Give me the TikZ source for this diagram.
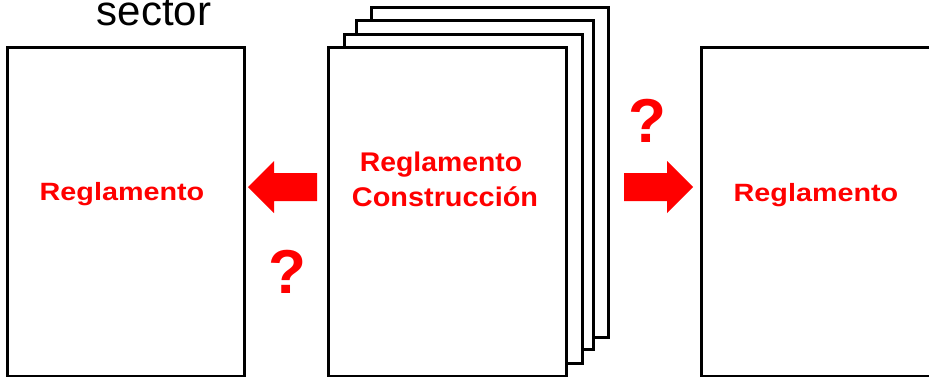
\documentclass[tikz,border=0pt]{standalone}
\usepackage{fontspec}
\setmainfont{Liberation Sans}
\begin{document}
\begin{tikzpicture}[x=1pt,y=-1pt,
  page/.style={draw=black,line width=3pt,fill=white},
  redtext/.style={text=red,font=\bfseries\fontsize{25}{30}\selectfont,inner sep=0pt,anchor=base},
  qmark/.style={text=red,font=\bfseries\fontsize{62}{70}\selectfont,inner sep=0pt},
  bigarrow/.style={fill=red,draw=none}]
\useasboundingbox (0,0) rectangle (929,376);
\clip (0,0) rectangle (929,376);
\fill[white] (0,0) rectangle (929,376);
% title fragment
\node[font=\fontsize{42}{48}\selectfont,inner sep=0pt,anchor=base] (title) at (154,25) {sector};
% left document
\draw[page] (7,47) rectangle (244,376);
% stacked documents
\draw[page] (371,7) rectangle (608,337);
\draw[page] (356,20) rectangle (593,349);
\draw[page] (344,34) rectangle (582,363);
\draw[page] (328,47) rectangle (566,376);
% right document
\draw[page] (701,47) rectangle (945,376);
% texts
\node[redtext,xscale=1.15] (lefttext) at (122,200.5) {Reglamento};
\node[redtext,font=\bfseries\fontsize{27}{32}\selectfont,xscale=1.05] (ctext1) at (441,171.7) {Reglamento};
\node[redtext,font=\bfseries\fontsize{27}{32}\selectfont,xscale=1.07] (ctext2) at (445,206.7) {Construcción};
\node[redtext,xscale=1.15] (righttext) at (816,201.5) {Reglamento};
% arrows
\fill[bigarrow] (248,187) -- (274,161) -- (274,173) -- (317,173) -- (317,201) -- (274,201) -- (274,213) -- cycle;
\fill[bigarrow] (693,187) -- (667,161) -- (667,173) -- (624,173) -- (624,201) -- (667,201) -- (667,213) -- cycle;
% question marks
\node[qmark] (qleft) at (287,272) {?};
\node[qmark] (qright) at (647,121) {?};
\end{tikzpicture}
\end{document}
